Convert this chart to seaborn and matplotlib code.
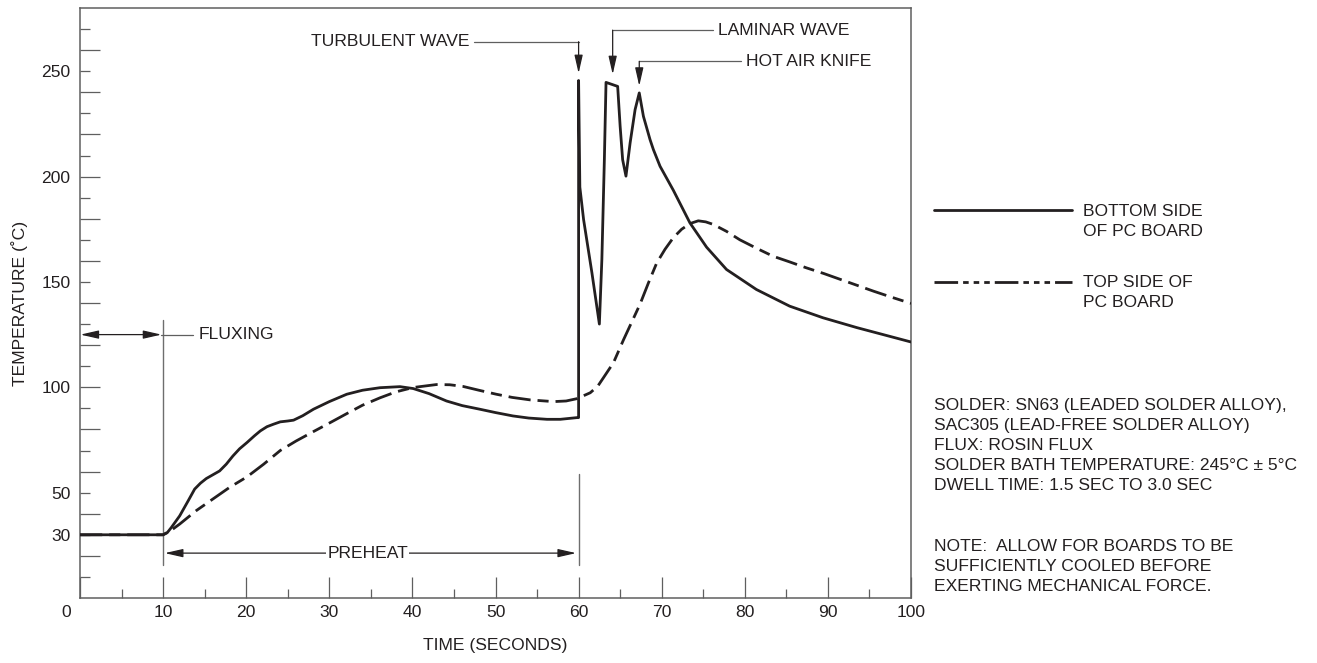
import matplotlib
matplotlib.use("Agg")
import matplotlib.pyplot as plt
import seaborn as sns
import pandas as pd
from matplotlib.lines import Line2D
from matplotlib.ticker import FuncFormatter

# ---------------- data ----------------
bottom_time = [0, 10, 10.5, 11, 12, 13, 13.8, 14.5, 15.2, 16.0, 16.8, 17.6, 18.4, 19.2,
               20.1, 21.0, 21.7, 22.5, 23.3, 24.1, 25.0, 25.7, 26.8, 28.1, 30.0, 32.1,
               34.0, 36.1, 38.5, 40.1, 42.0, 44.1, 46.0, 48.1, 50.0, 52.1, 54.0, 56.2,
               57.8, 59.8, 60.0, 60.0, 60.15, 60.6, 61.6, 62.5, 62.8, 63.1, 63.3, 64.7,
               65.0, 65.3, 65.7, 66.2, 66.8, 67.3, 67.8, 68.6, 69.0, 69.8, 71.4, 73.4,
               75.4, 77.8, 81.4, 85.4, 89.4, 93.5, 100]
bottom_temp = [30, 30, 31, 33.5, 39, 46, 51.7, 54.5, 56.7, 58.5, 60.3, 63.5, 67.4, 70.8,
               73.8, 77, 79.3, 81.3, 82.5, 83.6, 84, 84.4, 86.5, 89.6, 93.2, 96.7,
               98.6, 99.8, 100.3, 99.4, 97, 93.5, 91.3, 89.6, 88, 86.4, 85.4, 84.8,
               84.8, 85.6, 85.6, 245.6, 195, 179.6, 154.4, 130, 160.7, 208, 244.7, 242.8,
               223.8, 208, 200.2, 216, 231.8, 239.7, 228.6, 217.5, 212.8, 204.9, 193.5, 178,
               166.5, 155.9, 146.4, 138.5, 133, 128.3, 121.5]

top_time = [0, 10, 11, 12, 14, 16, 18, 20.1, 22.1, 24.1, 26, 28.1, 30, 32.1, 34, 36.1,
            38, 40.1, 42.9, 44.5, 46.1, 48, 50.1, 52, 54.2, 57, 58.5, 59.8, 61.4, 62.3,
            63, 64.2, 65.4, 66.4, 67.4, 68.4, 69.4, 70.4, 71.4, 72.4, 73.4, 74.4, 75.3,
            76.2, 77.8, 79.4, 81.4, 83.4, 85.4, 87.4, 89.5, 91.5, 93.5, 95.5, 97.7, 100]
top_temp = [30, 30, 32.2, 35.1, 41.5, 47, 52.5, 57.5, 63.5, 70, 74.5, 79, 83, 87.5, 91.5, 95,
            97.8, 99.9, 101.3, 101.2, 100.4, 98.6, 96.7, 95.2, 94, 93.2, 93.5, 94.6, 97.4, 100.5,
            104.6, 111.7, 122.5, 131, 139.5, 149.5, 159, 165.5, 171, 175, 177.7, 179, 178.5,
            177.3, 174, 170, 166, 162.2, 159.5, 156.7, 154, 151.2, 148.4, 145.6, 142.7, 139.8]

series_labels = ["BOTTOM SIDE\nOF PC BOARD", "TOP SIDE OF\nPC BOARD"]
x_major_ticks = list(range(0, 101, 10))
x_minor_ticks = list(range(5, 100, 10))
x_tick_labels = [""] + [str(v) for v in range(10, 101, 10)]
y_long_ticks = list(range(20, 271, 20))
y_short_ticks = list(range(10, 271, 20))
y_labelled = [30, 50, 100, 150, 200, 250]

notes_text = ("SOLDER: SN63 (LEADED SOLDER ALLOY),\n"
              "SAC305 (LEAD-FREE SOLDER ALLOY)\n"
              "FLUX: ROSIN FLUX\n"
              "SOLDER BATH TEMPERATURE: 245°C ± 5°C\n"
              "DWELL TIME: 1.5 SEC TO 3.0 SEC")
note_text = ("NOTE:  ALLOW FOR BOARDS TO BE\n"
             "SUFFICIENTLY COOLED BEFORE\n"
             "EXERTING MECHANICAL FORCE.")

# ---------------- styling ----------------
INK = "#231f20"
GRAY = "#5f5f5f"
LGRAY = "#6e6e6e"
FS = 12.6
LS = 1.42

sns.set_theme(style="white")
plt.rcParams["font.family"] = ["Liberation Sans", "DejaVu Sans"]
plt.rcParams["lines.scale_dashes"] = False
plt.rcParams["text.color"] = INK

W, H = 1317, 663
fig = plt.figure(figsize=(W / 100, H / 100), dpi=100)
ax = fig.add_axes([80 / W, 65 / H, 831 / W, 590 / H])

CURVE_DASH = (0, (16, 5, 8, 5))
LEGEND_DASH = (0, (17, 3.6, 4, 3.6, 4, 3.6, 4, 3.6))

df_bottom = pd.DataFrame({"time": bottom_time, "temp": bottom_temp})
df_top = pd.DataFrame({"time": top_time, "temp": top_temp})
sns.lineplot(data=df_bottom, x="time", y="temp", ax=ax, estimator=None, sort=False,
             color=INK, lw=2.0, zorder=5)
sns.lineplot(data=df_top, x="time", y="temp", ax=ax, estimator=None, sort=False,
             color=INK, lw=2.0, linestyle=CURVE_DASH, zorder=5)

ax.set_xlim(0, 100)
ax.set_ylim(0, 280)

for s in ax.spines.values():
    s.set_color(GRAY)
    s.set_linewidth(1.1)

ax.set_xticks(x_major_ticks)
ax.set_xticklabels(x_tick_labels)
ax.set_xticks(x_minor_ticks, minor=True)
ax.set_yticks(y_long_ticks)
ax.set_yticks(y_short_ticks, minor=True)
fmt = FuncFormatter(lambda v, p: str(int(round(v))) if int(round(v)) in y_labelled else "")
ax.yaxis.set_major_formatter(fmt)
ax.yaxis.set_minor_formatter(fmt)

ax.tick_params(which="both", bottom=True, left=True, top=False, right=False)
ax.tick_params(axis="x", which="major", direction="in", length=15, width=0.9,
               color=GRAY, pad=5, labelsize=FS, labelcolor=INK)
ax.tick_params(axis="x", which="minor", direction="in", length=6.5, width=0.9, color=GRAY)
ax.tick_params(axis="y", which="major", direction="in", length=14.4, width=0.9,
               color=GRAY, pad=7, labelsize=FS, labelcolor=INK)
ax.tick_params(axis="y", which="minor", direction="in", length=7.2, width=0.9,
               color=GRAY, pad=7, labelsize=FS, labelcolor=INK, labelleft=True)

ax.annotate("0", xy=(0, 0), xytext=(-6.5, -5), textcoords="offset points",
            ha="right", va="top", fontsize=FS)

ax.set_xlabel("TIME (SECONDS)", fontsize=FS, color=INK)
ax.set_ylabel("TEMPERATURE (˚C)", fontsize=FS, color=INK)
ax.xaxis.set_label_coords(0.5, -0.068)
ax.yaxis.set_label_coords(-0.062, 0.5)

# ---------------- annotations ----------------
head = "-|>,head_length=1.1,head_width=0.25"
dhead = "<|-|>,head_length=1.1,head_width=0.25"
aprops = dict(arrowstyle=head, color=INK, lw=0.9, shrinkA=0, shrinkB=0, mutation_scale=10)
dprops = dict(arrowstyle=dhead, color=INK, lw=0.9, shrinkA=0, shrinkB=0, mutation_scale=10)

# wave call-outs
ax.text(46.9, 264, "TURBULENT WAVE", ha="right", va="center", fontsize=FS)
ax.plot([47.4, 60.0], [264, 264], color=GRAY, lw=0.9)
ax.annotate("", xy=(60.0, 249), xytext=(60.0, 264), arrowprops=aprops)

ax.text(76.8, 269.5, "LAMINAR WAVE", ha="left", va="center", fontsize=FS)
ax.plot([64.1, 76.2], [269.5, 269.5], color=GRAY, lw=0.9)
ax.annotate("", xy=(64.1, 248.5), xytext=(64.1, 269.5), arrowprops=aprops)

ax.text(80.1, 254.7, "HOT AIR KNIFE", ha="left", va="center", fontsize=FS)
ax.plot([67.3, 79.5], [254.7, 254.7], color=GRAY, lw=0.9)
ax.annotate("", xy=(67.3, 243), xytext=(67.3, 254.7), arrowprops=aprops)

# fluxing
ax.plot([10, 10], [15.8, 131.7], color=LGRAY, lw=1.0, zorder=2)
ax.annotate("", xy=(0.05, 125), xytext=(9.8, 125), arrowprops=dprops)
ax.plot([9.8, 13.6], [125, 125], color=GRAY, lw=0.9)
ax.text(14.3, 125, "FLUXING", ha="left", va="center", fontsize=FS)

# preheat
ax.plot([60, 60], [15.8, 59], color=LGRAY, lw=1.0, zorder=2)
ax.annotate("", xy=(10.2, 21.3), xytext=(59.7, 21.3), arrowprops=dprops)
ax.text(34.6, 21.3, "PREHEAT", ha="center", va="center", fontsize=FS, zorder=4,
        bbox=dict(fc="white", ec="none", pad=1.0))

# ---------------- legend & notes (outside the axes) ----------------
def fy(px):
    return 1 - px / H

fig.add_artist(Line2D([934 / W, 1072 / W], [fy(210), fy(210)], color=INK, lw=2.0))
fig.add_artist(Line2D([934 / W, 1072 / W], [fy(281.7), fy(281.7)], color=INK, lw=2.0,
                      linestyle=LEGEND_DASH))
fig.text(1083 / W, fy(221.2), series_labels[0], ha="left", va="center", fontsize=FS,
         linespacing=LS)
fig.text(1083 / W, fy(292.2), series_labels[1], ha="left", va="center", fontsize=FS,
         linespacing=LS)
fig.text(934 / W, fy(445.7), notes_text, ha="left", va="center", fontsize=FS,
         linespacing=LS)
fig.text(934 / W, fy(566.7), note_text, ha="left", va="center", fontsize=FS,
         linespacing=LS)

fig.savefig("out.png", dpi=100)
